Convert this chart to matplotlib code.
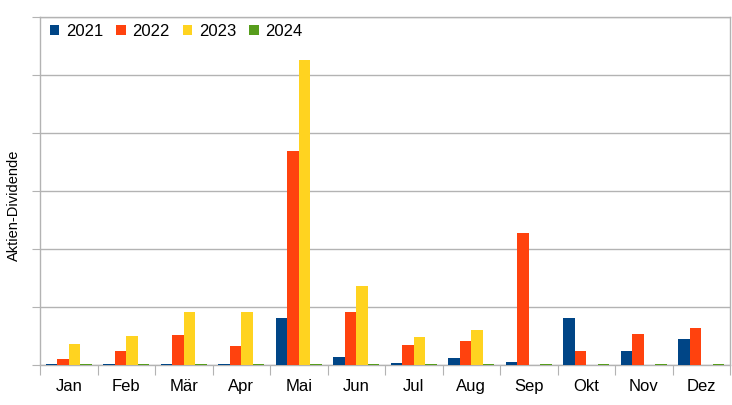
import matplotlib
matplotlib.use("Agg")
import matplotlib.pyplot as plt
import numpy as np
from matplotlib.ticker import MultipleLocator, FixedLocator, NullFormatter

plt.rcParams['font.family'] = ['Liberation Sans', 'DejaVu Sans']

months = ["Jan", "Feb", "Mär", "Apr", "Mai", "Jun", "Jul", "Aug", "Sep", "Okt", "Nov", "Dez"]
series_names = ["2021", "2022", "2023", "2024"]
v2021 = [0.01, 0.01, 0.01, 0.01, 0.81, 0.14, 0.04, 0.12, 0.06, 0.81, 0.24, 0.445]
v2022 = [0.095, 0.245, 0.52, 0.32, 3.69, 0.91, 0.34, 0.41, 2.28, 0.245, 0.53, 0.64]
v2023 = [0.37, 0.50, 0.92, 0.91, 5.26, 1.36, 0.49, 0.60, 0.005, 0.005, 0.005, 0.005]
v2024 = [0.01, 0.01, 0.01, 0.01, 0.01, 0.01, 0.01, 0.01, 0.01, 0.01, 0.01, 0.01]
colors = ["#004586", "#ff420e", "#ffd320", "#579d1c"]

fig = plt.figure(figsize=(7.32, 4.05), dpi=100)
ax = fig.add_axes([40/732, 40/405, 690/732, 348/405])

x = np.arange(len(months))
w = 0.2
for i, (vals, c, name) in enumerate(zip([v2021, v2022, v2023, v2024], colors, series_names)):
    ax.bar(x + (i - 1.5) * w, vals, width=w, color=c, label=name, zorder=3)

ax.set_xlim(-0.5, 11.5)
ax.set_ylim(0, 6)
ax.yaxis.set_major_locator(MultipleLocator(1))
ax.yaxis.set_major_formatter(NullFormatter())
ax.grid(axis='y', color='#b3b3b3', linewidth=1, zorder=0)

ax.xaxis.set_major_locator(FixedLocator(np.arange(-0.5, 12, 1)))
ax.xaxis.set_major_formatter(NullFormatter())
ax.xaxis.set_minor_locator(FixedLocator(x))
ax.set_xticklabels(months, minor=True)
ax.tick_params(axis='x', which='minor', length=0, labelsize=12, pad=10)
ax.tick_params(axis='x', which='major', length=7, color='#b3b3b3')
ax.tick_params(axis='y', length=6, color='#b3b3b3')

for s in ax.spines.values():
    s.set_color('#b3b3b3')
    s.set_linewidth(1)

fig.text(14/732, 1 - 205/405, "Aktien-Dividende", rotation=90, fontsize=10.5,
         ha='center', va='center')

leg = ax.legend(loc='upper left', ncol=4, frameon=False, fontsize=12,
                handlelength=0.55, handleheight=0.55, handletextpad=0.4,
                columnspacing=0.8, borderaxespad=0.2, bbox_to_anchor=(0.0, 1.01))

fig.savefig("out.png", dpi=100)
